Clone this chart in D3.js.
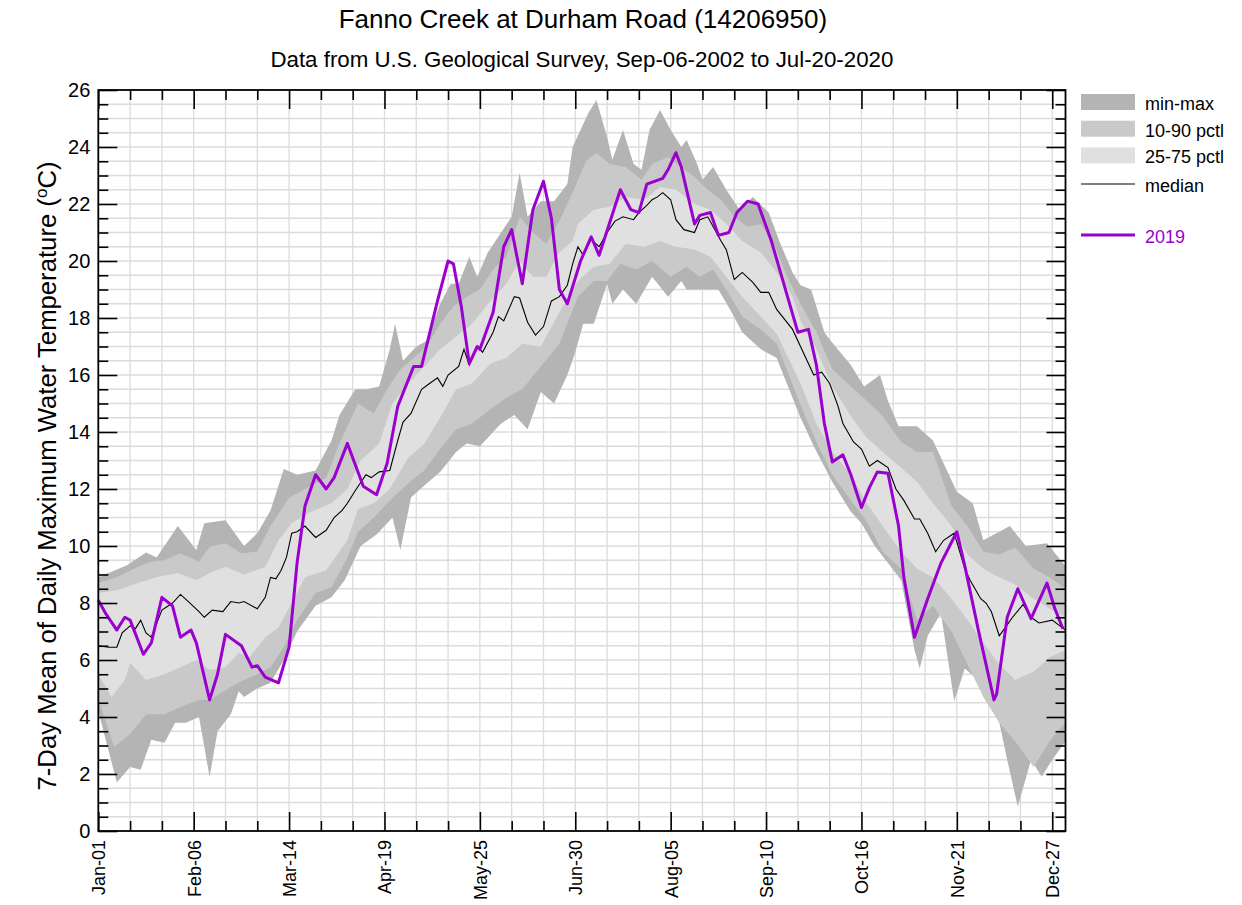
<!DOCTYPE html>
<html>
<head>
<meta charset="utf-8">
<script src="https://cdn.jsdelivr.net/npm/d3@7"></script>
<style>
    body { margin: 0; background: #fff; }
    text { font-family: "Liberation Sans", Arial, sans-serif; }
</style>
</head>
<body>
<div id="svgContainer"></div>
<script>
// values: [day of year (Jan-01 = 0), deg C]
const maxSeries = [[0,8.9],[5,9.1],[11,9.33],[18,9.77],[22,9.6],[30,10.7],[37,9.86],[40,10.8],[48,10.9],[55,10.0],[60,10.45],[65,11.25],[70,12.7],[75,12.5],[82,12.65],[88,13.7],[91,14.6],[97,15.5],[101,15.5],[106,15.6],[110,16.9],[112,17.8],[115,16.5],[120,17.0],[124,17.2],[129,18.5],[133,19.2],[136,19.2],[140,20.15],[143,19.45],[147,20.3],[152,21.0],[156,21.55],[159,23.1],[162,21.55],[167,22.1],[172,22.1],[177,22.7],[179,24.0],[185,25.2],[188,25.65],[192,24.35],[194,23.55],[198,24.6],[202,23.4],[205,23.2],[208,24.6],[212,25.3],[216,24.6],[220,24.0],[222,24.25],[226,23.4],[228,22.85],[232,23.3],[237,22.5],[242,21.8],[247,22.25],[253,21.7],[257,20.7],[262,19.6],[265,19.15],[269,19.0],[274,17.5],[276,17.25],[284,16.35],[289,15.6],[295,16.0],[298,15.1],[302,14.2],[309,14.2],[315,13.7],[319,12.9],[324,11.9],[330,11.5],[334,10.2],[344,10.7],[350,10.0],[358,10.1],[365,9.3]];
const p90Series = [[0,8.7],[7,8.9],[15,9.27],[20,9.45],[25,9.5],[31,9.75],[38,9.45],[42,9.97],[48,10.1],[54,9.75],[60,9.8],[65,10.7],[72,11.7],[78,12.0],[86,12.4],[91,13.6],[98,15.0],[104,14.65],[109,15.5],[114,16.2],[119,16.6],[124,17.0],[129,17.8],[134,18.4],[139,18.75],[144,19.0],[149,19.7],[154,20.15],[159,21.55],[164,21.0],[169,20.6],[174,21.4],[179,22.4],[184,23.5],[188,23.8],[193,23.4],[199,23.3],[205,22.85],[209,23.4],[215,23.65],[220,23.3],[225,22.95],[230,22.5],[235,22.15],[240,21.55],[245,21.2],[250,21.3],[255,20.6],[260,19.45],[265,18.5],[271,17.5],[277,16.2],[284,15.6],[290,15.1],[296,14.55],[303,13.65],[309,13.3],[315,13.3],[322,11.4],[328,10.7],[334,9.8],[340,9.7],[346,9.95],[353,9.2],[359,8.9],[365,8.5]];
const p75Series = [[0,8.35],[7,8.45],[15,8.7],[22,8.9],[30,9.05],[37,8.8],[43,9.1],[48,9.27],[55,9.0],[63,9.27],[68,10.2],[73,10.8],[79,11.15],[88,11.5],[94,12.0],[99,13.0],[106,13.6],[111,15.0],[117,15.7],[123,16.3],[129,16.9],[135,17.35],[141,17.8],[148,18.6],[154,19.2],[159,20.0],[164,19.45],[169,19.45],[174,20.3],[179,20.7],[181,21.3],[187,21.8],[193,21.9],[199,22.25],[206,22.15],[212,22.6],[218,22.5],[225,22.0],[231,21.8],[237,21.3],[243,20.7],[250,20.3],[256,19.6],[262,18.75],[265,17.9],[271,16.9],[277,15.6],[284,14.55],[290,13.8],[296,13.3],[303,12.75],[309,12.25],[315,11.5],[322,10.7],[328,9.7],[334,9.2],[340,8.9],[346,8.65],[353,8.15],[359,7.8],[365,7.5]];
const p25Series = [[0,5.5],[5,4.7],[10,5.3],[12,5.9],[18,5.3],[25,5.5],[31,5.75],[37,6.0],[42,5.65],[48,5.75],[53,6.25],[57,6.1],[63,6.8],[68,7.15],[73,8.0],[78,8.9],[86,9.15],[94,10.2],[98,11.3],[104,11.5],[110,12.0],[117,13.1],[123,13.6],[129,14.5],[135,15.5],[141,15.7],[148,16.4],[154,16.6],[160,17.1],[167,17.0],[174,18.2],[181,19.3],[187,19.8],[193,19.9],[199,20.6],[206,20.5],[212,20.7],[218,20.5],[225,20.4],[231,20.15],[237,19.45],[243,18.75],[250,18.05],[256,17.45],[265,15.7],[271,14.3],[277,13.3],[284,12.5],[290,11.5],[296,10.7],[303,9.8],[309,9.2],[315,8.9],[322,8.15],[328,7.4],[334,6.6],[340,5.85],[346,5.3],[353,5.6],[359,6.1],[365,6.35]];
const p10Series = [[0,4.6],[6,2.95],[12,3.4],[18,4.1],[25,4.1],[31,4.35],[38,4.6],[42,4.6],[50,5.05],[55,5.3],[60,5.5],[65,5.75],[70,6.45],[75,7.4],[82,8.35],[88,8.55],[94,9.6],[98,10.5],[104,11.0],[110,11.6],[117,12.2],[123,12.65],[129,13.4],[135,14.1],[141,14.3],[148,14.8],[154,15.2],[160,15.5],[167,16.3],[174,17.1],[181,18.75],[187,19.3],[192,19.3],[197,19.9],[203,19.7],[209,20.0],[216,19.45],[222,19.8],[227,19.45],[232,19.7],[237,19.0],[243,18.05],[250,17.6],[256,17.1],[265,14.95],[271,13.65],[277,12.5],[284,11.6],[290,10.85],[296,9.8],[303,9.2],[309,7.4],[315,7.9],[322,7.0],[328,5.85],[334,4.7],[340,3.8],[346,3.15],[353,2.25],[359,3.15],[365,3.8]];
const minSeries = [[0,4.2],[7,1.7],[12,2.25],[16,2.15],[20,3.2],[25,3.1],[29,3.8],[33,3.8],[38,4.0],[42,1.9],[45,3.5],[50,4.1],[53,4.9],[55,4.7],[60,5.0],[65,5.2],[70,6.0],[75,7.0],[82,7.9],[88,8.2],[93,8.8],[99,10.0],[105,10.4],[111,11.0],[114,9.86],[118,11.7],[124,12.2],[129,12.6],[135,13.3],[139,13.6],[144,13.5],[152,14.3],[157,14.6],[162,14.1],[167,15.4],[172,15.0],[177,16.0],[180,16.8],[183,17.8],[187,17.8],[192,19.2],[194,18.5],[198,19.0],[203,18.5],[209,19.45],[215,18.75],[220,19.3],[222,19.0],[227,19.0],[234,19.0],[239,18.2],[243,17.5],[250,16.9],[256,16.6],[265,14.5],[270,13.5],[277,12.25],[284,11.2],[288,10.8],[293,10.0],[298,9.4],[303,8.8],[308,6.35],[310,5.7],[313,6.85],[318,7.65],[323,4.55],[327,5.7],[332,5.3],[338,4.7],[343,2.5],[347,0.85],[352,2.5],[356,1.9],[360,2.5],[365,3.15]];
const medianSeries = [[0,6.5],[4,6.45],[7,6.45],[9,6.95],[12,7.2],[14,7.1],[16,7.4],[18,6.95],[20,6.8],[24,7.75],[28,8.0],[31,8.3],[34,8.05],[38,7.7],[40,7.5],[43,7.75],[47,7.7],[50,8.05],[53,8.0],[55,8.05],[60,7.8],[63,8.2],[65,8.9],[67,8.85],[69,9.15],[71,9.6],[73,10.45],[75,10.5],[78,10.7],[82,10.3],[86,10.55],[89,11.0],[92,11.25],[94,11.5],[97,11.95],[101,12.5],[103,12.4],[106,12.6],[110,12.65],[113,13.7],[115,14.35],[118,14.65],[122,15.5],[125,15.7],[128,15.9],[130,15.6],[132,16.0],[136,16.3],[138,16.9],[140,16.35],[143,17.0],[145,16.8],[149,17.5],[151,18.05],[153,17.9],[157,18.75],[159,18.7],[162,17.85],[165,17.4],[168,17.7],[171,18.6],[174,18.75],[177,19.15],[179,19.9],[181,20.5],[183,20.2],[186,20.75],[189,20.5],[192,21.0],[195,21.4],[198,21.55],[202,21.45],[204,21.7],[207,21.95],[209,22.15],[211,22.25],[213,22.4],[216,22.15],[218,21.45],[221,21.1],[225,21.0],[227,21.45],[230,21.55],[235,20.7],[237,20.4],[240,19.35],[243,19.6],[247,19.25],[250,18.9],[253,18.9],[256,18.3],[262,17.6],[265,17.0],[270,16.0],[273,16.1],[276,15.7],[279,14.95],[281,14.3],[285,13.65],[288,13.4],[291,12.8],[294,13.0],[298,12.75],[301,12.0],[304,11.6],[308,10.95],[310,10.95],[313,10.45],[316,9.8],[319,10.2],[323,10.45],[327,9.2],[329,8.8],[333,8.15],[335,8.0],[337,7.7],[340,6.85],[342,7.1],[345,7.5],[349,7.95],[352,7.5],[355,7.3],[360,7.4],[365,7.05]];
const series2019 = [[0,8.1],[3,7.6],[7,7.05],[10,7.5],[12,7.4],[17,6.2],[20,6.6],[24,8.2],[28,7.9],[31,6.8],[35,7.05],[37,6.6],[42,4.6],[45,5.5],[48,6.9],[54,6.5],[58,5.75],[60,5.8],[63,5.4],[68,5.2],[72,6.45],[75,9.4],[78,11.4],[82,12.5],[86,12.0],[89,12.4],[94,13.6],[100,12.1],[105,11.8],[109,12.9],[113,14.9],[119,16.3],[122,16.3],[128,18.6],[132,20.0],[134,19.9],[137,18.4],[140,16.4],[143,17.0],[144,16.9],[149,18.2],[153,20.5],[156,21.1],[160,19.2],[164,21.8],[168,22.8],[171,21.5],[174,19.0],[177,18.5],[182,20.0],[186,20.85],[189,20.2],[197,22.5],[201,21.8],[204,21.7],[207,22.7],[213,22.9],[215,23.2],[218,23.8],[220,23.3],[225,21.3],[227,21.6],[231,21.7],[234,20.9],[238,21.0],[241,21.7],[245,22.1],[249,22.0],[254,20.7],[259,19.1],[264,17.5],[268,17.6],[271,16.35],[274,14.3],[277,12.95],[281,13.2],[284,12.5],[288,11.35],[291,12.05],[294,12.6],[298,12.55],[302,10.7],[304,8.9],[308,6.8],[313,8.15],[318,9.4],[324,10.5],[327,9.3],[332,7.1],[338,4.6],[339,4.8],[343,7.5],[347,8.5],[352,7.45],[358,8.7],[361,7.8],[364,7.1]];

const xTickDays = [0, 36, 72, 108, 144, 180, 216, 252, 288, 324, 360];
const xTickLabels = ["Jan-01", "Feb-06", "Mar-14", "Apr-19", "May-25", "Jun-30", "Aug-05", "Sep-10", "Oct-16", "Nov-21", "Dec-27"];
const legendLabels = ["min-max", "10-90 pctl", "25-75 pctl"];
const bandColors = ["#b4b4b4", "#c9c9c9", "#e0e0e0"];
const purple = "#9a00d0";

const w = 1242;
const h = 905;
const plot = { left: 98.3, right: 1065.5, top: 90, bottom: 831 };

const svg = d3.select("#svgContainer").append("svg")
    .attr("width", w)
    .attr("height", h)
    .style("background", "#fff");

const x = d3.scaleLinear().domain([0, 365]).range([plot.left, plot.right]);
const y = d3.scaleLinear().domain([0, 26]).range([plot.bottom, plot.top]);

// grid
const grid = svg.append("g");
grid.selectAll(".vgrid")
    .data(d3.range(12, 365, 12))
    .enter().append("line")
    .attr("x1", d => x(d)).attr("x2", d => x(d))
    .attr("y1", plot.top).attr("y2", plot.bottom)
    .style("stroke", "#dcdcdc").style("stroke-width", 1.3);
grid.selectAll(".hgrid")
    .data(d3.range(0.5, 26, 0.5))
    .enter().append("line")
    .attr("x1", plot.left).attr("x2", plot.right)
    .attr("y1", d => y(d)).attr("y2", d => y(d))
    .style("stroke", "#dcdcdc").style("stroke-width", 1.3);

// bands: upper edge forward, lower edge back
const line = d3.line().x(d => x(d[0])).y(d => y(d[1]));
function band(upper, lower) {
    return line(upper.concat(lower.slice().reverse())) + "Z";
}
const bands = [[maxSeries, minSeries], [p90Series, p10Series], [p75Series, p25Series]];
svg.selectAll(".band")
    .data(bands)
    .enter().append("path")
    .attr("class", "band")
    .attr("d", d => band(d[0], d[1]))
    .style("fill", (d, i) => bandColors[i])
    .style("stroke", "none");

svg.append("path")
    .attr("d", line(medianSeries))
    .style("fill", "none").style("stroke", "#000").style("stroke-width", 1.1);

svg.append("path")
    .attr("d", line(series2019))
    .style("fill", "none").style("stroke", purple).style("stroke-width", 3)
    .style("stroke-linejoin", "round");

// axes, ticks pointing into the plot
function styleAxis(g) {
    g.select(".domain").remove();
    g.selectAll(".tick line").style("stroke", "#000").style("stroke-width", 1.6);
}
const yMajor = d3.range(0, 26.01, 2);
const yMinor = d3.range(0, 26.01, 0.5).filter(v => v % 2 !== 0);
const xMinor = d3.range(0, 365, 12).filter(d => d % 36 !== 0);

svg.append("g").attr("transform", `translate(${plot.left},0)`)
    .call(d3.axisLeft(y).tickValues(yMinor).tickSize(-10).tickFormat(""))
    .call(styleAxis);
svg.append("g").attr("transform", `translate(${plot.left},0)`)
    .call(d3.axisLeft(y).tickValues(yMajor).tickSize(-19).tickPadding(8).tickFormat(d3.format("d")))
    .call(styleAxis)
    .selectAll("text")
    .style("font-size", "20px").style("fill", "#000");

svg.append("g").attr("transform", `translate(${plot.right},0)`)
    .call(d3.axisRight(y).tickValues(yMinor).tickSize(-10).tickFormat(""))
    .call(styleAxis);
svg.append("g").attr("transform", `translate(${plot.right},0)`)
    .call(d3.axisRight(y).tickValues(yMajor).tickSize(-19).tickFormat(""))
    .call(styleAxis);

svg.append("g").attr("transform", `translate(0,${plot.top})`)
    .call(d3.axisTop(x).tickValues(xMinor).tickSize(-10).tickFormat(""))
    .call(styleAxis);
svg.append("g").attr("transform", `translate(0,${plot.top})`)
    .call(d3.axisTop(x).tickValues(xTickDays).tickSize(-19).tickFormat(""))
    .call(styleAxis);

svg.append("g").attr("transform", `translate(0,${plot.bottom})`)
    .call(d3.axisBottom(x).tickValues(xMinor).tickSize(-10).tickFormat(""))
    .call(styleAxis);
svg.append("g").attr("transform", `translate(0,${plot.bottom})`)
    .call(d3.axisBottom(x).tickValues(xTickDays).tickSize(-19).tickFormat((d, i) => xTickLabels[i]))
    .call(styleAxis)
    .selectAll("text")
    .attr("transform", "rotate(-90)")
    .attr("x", -9).attr("y", 0).attr("dy", "0.36em")
    .style("text-anchor", "end")
    .style("font-size", "18px").style("fill", "#000");

// frame
svg.append("rect")
    .attr("x", plot.left).attr("y", plot.top)
    .attr("width", plot.right - plot.left).attr("height", plot.bottom - plot.top)
    .style("fill", "none").style("stroke", "#000").style("stroke-width", 1.8);

// titles
svg.append("text")
    .attr("x", (plot.left + plot.right) / 2 + 1).attr("y", 28)
    .attr("text-anchor", "middle")
    .style("font-size", "26px")
    .text("Fanno Creek at Durham Road (14206950)");
svg.append("text")
    .attr("x", (plot.left + plot.right) / 2).attr("y", 67)
    .attr("text-anchor", "middle")
    .style("font-size", "22.3px")
    .text("Data from U.S. Geological Survey, Sep-06-2002 to Jul-20-2020");

const yLabel = svg.append("text")
    .attr("transform", "translate(56,476) rotate(-90)")
    .attr("text-anchor", "middle")
    .style("font-size", "25.7px");
yLabel.append("tspan").text("7-Day Mean of Daily Maximum Water Temperature (");
yLabel.append("tspan").attr("baseline-shift", "super").style("font-size", "17px").text("o");
yLabel.append("tspan").text("C)");

// legend
const legend = svg.append("g");
legend.selectAll(".swatch")
    .data(legendLabels)
    .enter().append("rect")
    .attr("x", 1081).attr("y", (d, i) => 94 + i * 26.7)
    .attr("width", 54).attr("height", 16)
    .style("fill", (d, i) => bandColors[i]);
legend.selectAll(".ltext")
    .data(legendLabels.concat(["median", "2019"]))
    .enter().append("text")
    .attr("x", 1145)
    .attr("y", (d, i) => [104, 131, 157, 186, 237][i])
    .attr("dy", "0.35em")
    .style("font-size", "18px")
    .style("fill", d => d === "2019" ? purple : "#000")
    .text(d => d);
legend.append("line")
    .attr("x1", 1081).attr("x2", 1135).attr("y1", 184).attr("y2", 184)
    .style("stroke", "#000").style("stroke-width", 1.1);
legend.append("line")
    .attr("x1", 1081).attr("x2", 1135).attr("y1", 235).attr("y2", 235)
    .style("stroke", purple).style("stroke-width", 3);
</script>
</body>
</html>
